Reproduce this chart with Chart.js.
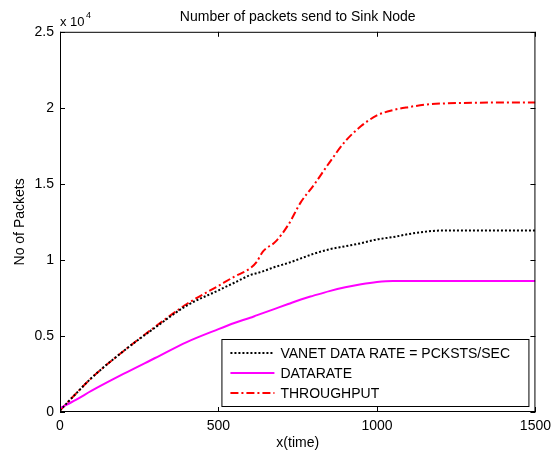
<!DOCTYPE html>
<html>
<head>
<meta charset="utf-8">
<script src="https://cdn.jsdelivr.net/npm/chart.js@4"></script>
<style>
  html, body { margin: 0; padding: 0; background: #fff; }
  #wrap { width: 557px; height: 452px; }
</style>
</head>
<body>
<div id="wrap"><canvas id="chart" width="557" height="452"></canvas></div>
<script>
// --- Data ---
const time = [0, 50, 100, 200, 300, 400, 500, 550, 600, 620, 640, 680, 720, 760, 800, 850, 900, 950, 1000, 1050, 1100, 1150, 1200, 1300, 1400, 1500];
const vanetRate = [100, 1200, 2250, 4000, 5550, 7000, 8000, 8500, 9000, 9120, 9250, 9550, 9800, 10100, 10400, 10700, 10900, 11100, 11350, 11500, 11700, 11850, 11930, 11930, 11930, 11930];
const dataRate = [250, 800, 1400, 2500, 3550, 4600, 5450, 5850, 6200, 6350, 6500, 6800, 7100, 7400, 7650, 7950, 8200, 8400, 8550, 8620, 8620, 8620, 8620, 8620, 8620, 8620];
const throughput = [100, 1200, 2250, 4000, 5600, 7100, 8300, 8900, 9450, 9850, 10550, 11200, 12300, 13800, 14900, 16400, 17800, 18800, 19500, 19850, 20050, 20200, 20280, 20330, 20350, 20350];
const seriesNames = ['VANET DATA RATE = PCKSTS/SEC', 'DATARATE', 'THROUGHPUT'];
const xTicks = [0, 500, 1000, 1500];
const yTicks = [0, 5000, 10000, 15000, 20000, 25000];

const FONT = "'Liberation Sans', Arial, sans-serif";
Chart.defaults.font.family = FONT;
Chart.defaults.font.size = 14;
Chart.defaults.color = '#000';

function toPoints(ys) {
    return ys.map((y, i) => ({ x: time[i], y: y }));
}

const styles = [
    { color: '#000000', dash: [2, 2], width: 2 },
    { color: '#ff00ff', dash: [], width: 2 },
    { color: '#ff0000', dash: [8, 3, 2, 3], width: 2 }
];

// MATLAB-like frame, inward ticks, exponent label and legend
const matlabFrame = {
    id: 'matlabFrame',
    afterDraw(chart) {
        const { ctx, chartArea: a, scales } = chart;
        ctx.save();
        ctx.strokeStyle = '#000';
        ctx.lineWidth = 1;
        ctx.setLineDash([]);
        ctx.strokeRect(a.left + 0.5, a.top + 0.5, a.right - a.left - 1, a.bottom - a.top - 1);

        const t = 5;
        ctx.beginPath();
        xTicks.forEach(v => {
            const px = Math.round(scales.x.getPixelForValue(v)) + 0.5;
            ctx.moveTo(px, a.bottom); ctx.lineTo(px, a.bottom - t);
            ctx.moveTo(px, a.top); ctx.lineTo(px, a.top + t);
        });
        yTicks.forEach(v => {
            const py = Math.round(scales.y.getPixelForValue(v)) + 0.5;
            ctx.moveTo(a.left, py); ctx.lineTo(a.left + t, py);
            ctx.moveTo(a.right, py); ctx.lineTo(a.right - t, py);
        });
        ctx.stroke();

        // exponent label
        ctx.fillStyle = '#000';
        ctx.textBaseline = 'middle';
        ctx.textAlign = 'left';
        ctx.font = '13px ' + FONT;
        ctx.fillText('x 10', a.left, a.top - 9);
        ctx.font = '9px ' + FONT;
        ctx.fillText('4', a.left + 26, a.top - 16);

        // legend box
        const bx = a.right - 314, by = a.bottom - 73, bw = 307, bh = 67;
        ctx.fillStyle = '#fff';
        ctx.fillRect(bx, by, bw, bh);
        ctx.strokeRect(bx + 0.5, by + 0.5, bw, bh);
        ctx.font = '14px ' + FONT;
        seriesNames.forEach((name, i) => {
            const y = by + 14 + i * 20;
            const s = styles[i];
            ctx.strokeStyle = s.color;
            ctx.lineWidth = s.width;
            ctx.setLineDash(s.dash);
            ctx.beginPath();
            ctx.moveTo(bx + 9, y);
            ctx.lineTo(bx + 53, y);
            ctx.stroke();
            ctx.fillStyle = '#000';
            ctx.fillText(name, bx + 59, y + 1);
        });
        ctx.restore();
    }
};

new Chart(document.getElementById('chart'), {
    type: 'line',
    data: {
        datasets: [vanetRate, dataRate, throughput].map((ys, i) => ({
            label: seriesNames[i],
            data: toPoints(ys),
            borderColor: styles[i].color,
            borderDash: styles[i].dash,
            borderWidth: styles[i].width,
            pointRadius: 0,
            cubicInterpolationMode: 'monotone',
            fill: false
        }))
    },
    options: {
        responsive: false,
        animation: false,
        layout: { padding: { left: 0, right: 15, top: 0, bottom: 0 } },
        plugins: {
            legend: { display: false },
            tooltip: { enabled: false },
            title: {
                display: true,
                text: 'Number of packets send to Sink Node',
                fullSize: false,
                font: { size: 14, weight: 'normal' },
                color: '#000',
                padding: { top: 9, bottom: 6 }
            }
        },
        scales: {
            x: {
                type: 'linear',
                min: 0,
                max: 1500,
                grid: { display: false, drawTicks: false },
                border: { display: false },
                ticks: { stepSize: 500, padding: 6, maxRotation: 0, callback: v => String(v) },
                title: { display: true, text: 'x(time)', padding: { top: 0, bottom: 0 } },
                afterFit(scale) { scale.height = 40; }
            },
            y: {
                min: 0,
                max: 25000,
                grid: { display: false, drawTicks: false },
                border: { display: false },
                ticks: {
                    stepSize: 5000,
                    padding: 6,
                    callback: v => String(v / 10000)
                },
                title: { display: true, text: 'No of Packets', padding: { top: 12, bottom: 0 } },
                afterFit(scale) { scale.width = 60; }
            }
        }
    },
    plugins: [matlabFrame]
});
</script>
</body>
</html>
